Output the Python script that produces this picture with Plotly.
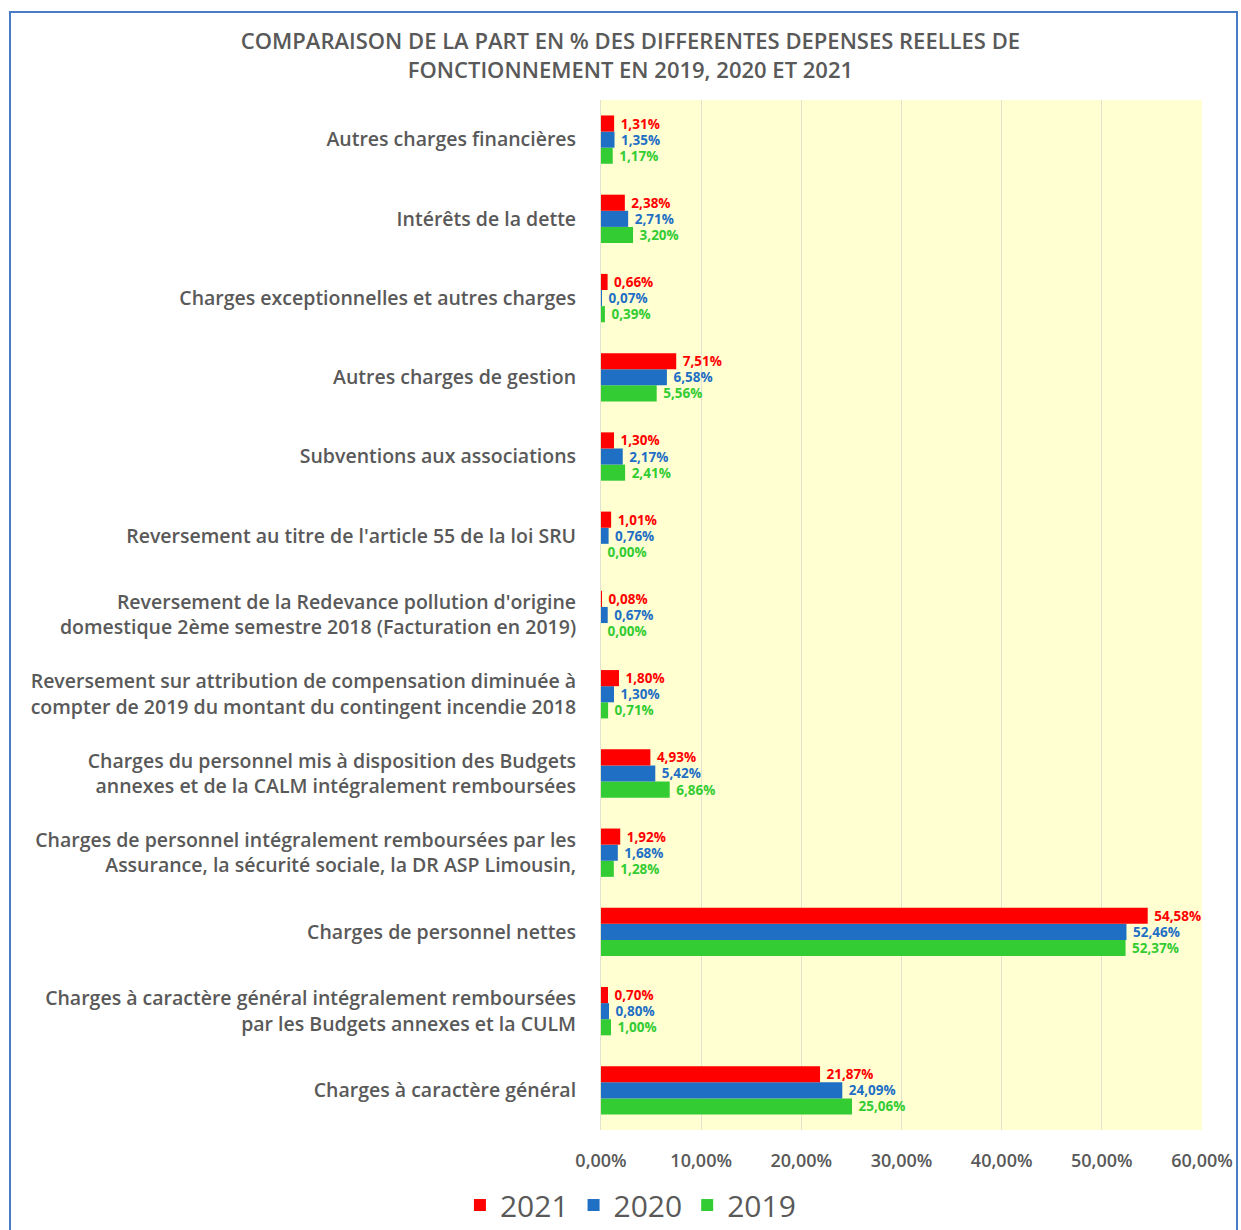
import plotly.graph_objects as go

categories = [
    "Charges à caractère général",
    "Charges à caractère général intégralement remboursées<br>par les Budgets annexes et la CULM",
    "Charges de personnel nettes",
    "Charges de personnel intégralement remboursées par les<br>Assurance, la sécurité sociale, la DR ASP Limousin,",
    "Charges du personnel mis à disposition des Budgets<br>annexes et de la CALM intégralement remboursées",
    "Reversement sur attribution de compensation diminuée à<br>compter de 2019 du montant du contingent incendie 2018",
    "Reversement de la Redevance pollution d'origine<br>domestique 2ème semestre 2018 (Facturation en 2019)",
    "Reversement au titre de l'article 55 de la loi SRU",
    "Subventions aux associations",
    "Autres charges de gestion",
    "Charges exceptionnelles et autres charges",
    "Intérêts de la dette",
    "Autres charges financières",
]

v2019 = [25.06, 1.00, 52.37, 1.28, 6.86, 0.71, 0.00, 0.00, 2.41, 5.56, 0.39, 3.20, 1.17]
v2020 = [24.09, 0.80, 52.46, 1.68, 5.42, 1.30, 0.67, 0.76, 2.17, 6.58, 0.07, 2.71, 1.35]
v2021 = [21.87, 0.70, 54.58, 1.92, 4.93, 1.80, 0.08, 1.01, 1.30, 7.51, 0.66, 2.38, 1.31]

series = [("2019", v2019, "#33CC33"), ("2020", v2020, "#1F6FC5"), ("2021", v2021, "#FF0000")]
tick_vals = [0, 10, 20, 30, 40, 50, 60]
tick_text = ["0,00%", "10,00%", "20,00%", "30,00%", "40,00%", "50,00%", "60,00%"]

fig = go.Figure()
for name, vals, col in series:
    fig.add_trace(go.Bar(
        y=categories, x=vals, name=name, orientation="h",
        marker=dict(color=col, line=dict(width=0)),
        text=vals, texttemplate=" %{x:.2f}%", textposition="outside",
        constraintext="none",
        textfont=dict(color=col, size=13.5, family="Open Sans", weight=700),
        cliponaxis=False,
    ))

fig.update_layout(
    width=1241, height=1230,
    margin=dict(l=601, r=39, t=100, b=100, autoexpand=False),
    paper_bgcolor="white", plot_bgcolor="#FFFFD2",
    barmode="group", bargap=0.39, bargroupgap=0,
    separators=", ",
    font=dict(family="Open Sans", color="#595959"),
    title=dict(
        text="COMPARAISON DE LA PART EN % DES DIFFERENTES DEPENSES REELLES DE<br>FONCTIONNEMENT EN 2019, 2020 ET 2021",
        x=0.508, xanchor="center", y=0.960, yanchor="top",
        font=dict(size=22, color="#595959", family="Open Sans", weight=600),
    ),
    legend=dict(orientation="h", x=0.508, xanchor="center", xref="container",
                y=0.0203, yref="container", yanchor="middle", traceorder="reversed",
                font=dict(size=30, color="#595959"), itemwidth=30),
    xaxis=dict(range=[0, 60], tickvals=tick_vals, ticktext=tick_text,
               showgrid=True, gridcolor="#E2E2D0", gridwidth=1, zeroline=False,
               showline=False, tickfont=dict(size=18, color="#595959", weight=600), ticks="",
               ticklabelstandoff=18),
    yaxis=dict(showline=True, linecolor="#E2E2D0", linewidth=1, ticks="",
               tickfont=dict(size=19.5, color="#595959", weight=600), ticklabelstandoff=20,
               categoryorder="array", categoryarray=categories),
    showlegend=True,
)

fig.add_shape(type="rect", xref="paper", yref="paper",
              x0=(10 - 601) / 601, x1=(1237 - 601) / 601,
              y0=-0.2, y1=(1130 - 12) / 1030,
              line=dict(color="#4A7CC4", width=2), fillcolor="rgba(0,0,0,0)", layer="below")

fig.write_html("out.html")
